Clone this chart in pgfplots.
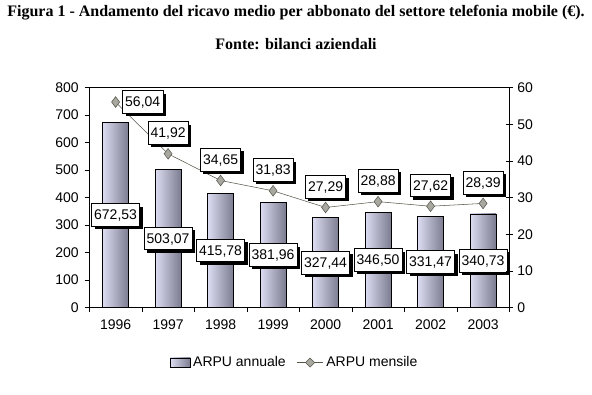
\documentclass[border=0pt]{standalone}
\usepackage{pgfplots}
\pgfplotsset{compat=1.18}
\usepackage{fontspec}
\setmainfont{Liberation Sans}
\newfontfamily\titlefont{Liberation Serif}
\usetikzlibrary{shadows,shapes.geometric}
\definecolor{barL}{HTML}{DCDCF2}
\definecolor{barM}{HTML}{D6D6C6}
\definecolor{barR}{HTML}{7C7C90}
\definecolor{lineC}{HTML}{55554A}
\definecolor{markC}{HTML}{A8A8A0}
\pgfplotstableread{
x bar line
0 672.53 56.04
1 503.07 41.92
2 415.78 34.65
3 381.96 31.83
4 327.44 27.29
5 346.50 28.88
6 331.47 27.62
7 340.73 28.39
}\datatable
\tikzset{lbl/.style={draw=black, fill=white, font=\fontsize{10.5}{12}\selectfont, inner xsep=2pt, inner ysep=0pt, minimum height=17pt, text depth=0pt,
  drop shadow={shadow xshift=2.3pt, shadow yshift=-2.3pt, opacity=1, fill=black}}}
\begin{document}
\begin{tikzpicture}
\useasboundingbox (0,0) rectangle (444pt,296.25pt);
\node[font=\titlefont\bfseries\fontsize{12}{14}\selectfont] at (222pt,286.5pt) {Figura 1 - Andamento del ricavo medio per abbonato del settore telefonia mobile (€).};
\node[font=\titlefont\bfseries\fontsize{12}{14}\selectfont] at (222pt,263.25pt) {Fonte: bilanci aziendali};
\begin{axis}[
  at={(67pt,65.6pt)}, anchor=south west,
  scale only axis, width=315pt, height=165pt,
  xmin=-0.5, xmax=7.5, ymin=0, ymax=800,
  axis y line*=left, axis x line*=bottom,
  xtick={0,...,7}, xticklabels={1996,1997,1998,1999,2000,2001,2002,2003},
  major x tick style={draw=none},
  minor xtick={-0.5,0.5,...,7.5},
  minor tick length=3.5pt,
  ytick={0,100,...,800},
  tick align=outside, major tick length=3.5pt,
  tick style={black, thin},
  ticklabel style={font=\fontsize{10.5}{12}\selectfont},
  /pgf/number format/assume math mode=true,
  /pgf/number format/1000 sep={},
  xticklabel style={yshift=-2pt},
  yticklabel style={xshift=-1pt},
  axis line style={black, thin},
  clip=false,
  legend columns=2,
  legend style={draw=none, fill=none, at={(0.49,-0.25)}, anchor=center, font=\fontsize{10.5}{12}\selectfont, /tikz/every even column/.append style={column sep=6pt}},
]
\pgfplotsinvokeforeach{0,...,7}{
\addplot[ybar, bar width=19.5pt, bar shift=0pt, draw=black, thin, left color=barL, middle color=barM, right color=barR,
  restrict x to domain=#1:#1, forget plot]
  table[x=x, y=bar] {\datatable};
}
\addplot[draw=none, mark=none,
  visualization depends on={rawy \as \rawy},
  nodes near coords={\pgfmathprintnumber[fixed, fixed zerofill, precision=2, use comma, assume math mode=true]{\pgfplotspointmeta}},
  every node near coord/.append style={lbl, anchor=center, yshift=-0.103125pt*\rawy}, forget plot]
  table[x=x, y=bar] {\datatable};
\addlegendimage{legend image code/.code={\fill[left color=barL, middle color=barM, right color=barR, draw=black, very thin] (0pt,-3.5pt) rectangle (15pt,3.5pt);}}
\addlegendentry{ARPU annuale}
\addlegendimage{legend image code/.code={\draw[lineC, thin] (0pt,0pt) -- (20pt,0pt); \node[diamond, draw=lineC, fill=markC, inner sep=0pt, minimum size=7pt] at (10pt,0pt) {};}}
\addlegendentry{ARPU mensile}
\end{axis}
\begin{axis}[
  at={(67pt,65.6pt)}, anchor=south west,
  scale only axis, width=315pt, height=165pt,
  xmin=-0.5, xmax=7.5, ymin=0, ymax=60,
  axis y line*=right, axis x line=none,
  ytick={0,10,...,60},
  tick align=center, major tick length=5pt,
  tick style={black, thin},
  ticklabel style={font=\fontsize{10.5}{12}\selectfont},
  /pgf/number format/assume math mode=true,
  axis line style={black, thin},
  clip=false,
]
\draw[black, thin] (axis description cs:0,1) -- (axis description cs:1,1);
\addplot[lineC, thin, mark=diamond*, mark size=4pt, mark options={fill=markC, draw=lineC}]
  table[x=x, y=line] {\datatable};
\addplot[draw=none, mark=none,
  nodes near coords={\pgfmathprintnumber[fixed, fixed zerofill, precision=2, use comma, assume math mode=true]{\pgfplotspointmeta}},
  every node near coord/.append style={lbl, anchor=west, xshift=5pt, yshift=0pt}]
  coordinates {(0,56.04)};
\addplot[draw=none, mark=none,
  nodes near coords={\pgfmathprintnumber[fixed, fixed zerofill, precision=2, use comma, assume math mode=true]{\pgfplotspointmeta}},
  every node near coord/.append style={lbl, anchor=south, yshift=7pt}]
  coordinates {(1,41.92) (2,34.65) (3,31.83) (4,27.29) (5,28.88) (6,27.62) (7,28.39)};
\end{axis}
\end{tikzpicture}
\end{document}
